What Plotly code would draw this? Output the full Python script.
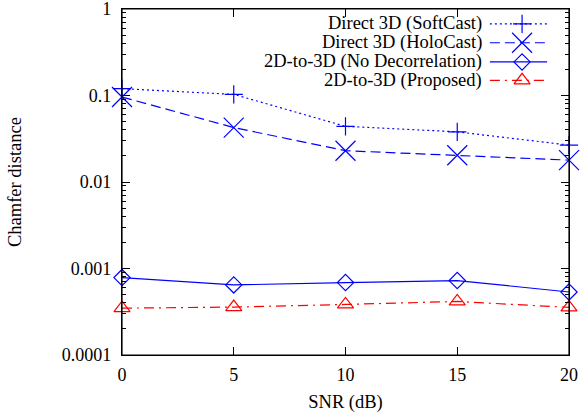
import plotly.graph_objects as go

snr = [0, 5, 10, 15, 20]
softcast = [0.120, 0.103, 0.044, 0.038, 0.0267]
holocast = [0.096, 0.0426, 0.0230, 0.0204, 0.0179]
no_decorr = [0.000785, 0.000646, 0.000688, 0.000725, 0.000535]
proposed = [0.000348, 0.000358, 0.000384, 0.000416, 0.000355]

y_ticks = [0.0001, 0.001, 0.01, 0.1, 1]
y_ticktext = ["0.0001", "0.001", "0.01", "0.1", "1"]
x_ticks = [0, 5, 10, 15, 20]

names = ["Direct 3D (SoftCast)", "Direct 3D (HoloCast)",
         "2D-to-3D (No Decorrelation)", "2D-to-3D (Proposed)"]
series = [softcast, holocast, no_decorr, proposed]
colors = ["#0000ff", "#0000ff", "#0000ff", "#ff0000"]
dashes = ["2px,3px", "10px,5px", "solid", "10px,5px,2px,5px"]
symbols = ["cross-thin-open", "x-thin-open", "diamond-open", "triangle-up-open"]
msizes = [13, 20, 12.5, 14]

FONT = "Liberation Serif"
W, H = 581, 413
L, R, T, B = 122, 12, 9, 58

minor_vals = [m * d for d in y_ticks[:-1] for m in range(2, 10)]

fig = go.Figure()
for name, ys, c, d, s, ms in zip(names, series, colors, dashes, symbols, msizes):
    fig.add_trace(go.Scatter(
        x=snr, y=ys, mode="lines+markers", name=name, showlegend=False,
        line=dict(color=c, dash=d, width=1.2),
        marker=dict(symbol=s, size=ms, color=c, line=dict(color=c, width=1.2)),
        cliponaxis=False,
    ))

# custom legend (text on the left, key on the right, like gnuplot)
leg_text_x = 0.81
leg_key_x0, leg_key_x1 = 0.823, 0.951
leg_rows = [0.957, 0.9025, 0.847, 0.794]
for name, c, d, s, ms, yy in zip(names, colors, dashes, symbols, msizes, leg_rows):
    fig.add_trace(go.Scatter(
        x=[leg_key_x0, leg_key_x1], y=[yy, yy], mode="lines", xaxis="x2", yaxis="y2",
        showlegend=False, hoverinfo="skip",
        line=dict(color=c, dash=d, width=1.2)))
    fig.add_trace(go.Scatter(
        x=[0.895], y=[yy], mode="markers", xaxis="x2", yaxis="y2",
        showlegend=False, hoverinfo="skip",
        marker=dict(symbol=s, size=ms, color=c, line=dict(color=c, width=1.2))))
    fig.add_annotation(x=leg_text_x, y=yy, xref="paper", yref="paper", text=name,
                       showarrow=False, xanchor="right", yanchor="middle",
                       font=dict(family=FONT, size=18.5, color="black"))

# plot frame
fig.add_shape(type="rect", xref="paper", yref="paper", x0=0, y0=0, x1=1, y1=1,
              line=dict(color="black", width=1.2), layer="above")

fig.update_layout(
    width=W, height=H,
    margin=dict(l=L, r=R, t=T, b=B),
    paper_bgcolor="white", plot_bgcolor="white",
    font=dict(family=FONT, size=18, color="black"),
    showlegend=False,
    xaxis=dict(
        range=[0, 20], tickvals=x_ticks, ticks="inside", ticklen=8,
        tickcolor="black", showline=True, linecolor="black", linewidth=1.2,
        mirror="ticks", showgrid=False, zeroline=False, automargin=False,
        ticklabelstandoff=3, ticklabeloverflow="allow",
        tickfont=dict(family=FONT, size=18),
        title=dict(text="SNR (dB)", standoff=11, font=dict(family=FONT, size=18.5)),
    ),
    yaxis=dict(
        type="log", range=[-4, 0], tickvals=y_ticks, ticktext=y_ticktext,
        ticks="inside", ticklen=8, tickcolor="black",
        minor=dict(ticks="inside", ticklen=4, tickcolor="black",
                   tickmode="array", tickvals=minor_vals, showgrid=False),
        showline=True, linecolor="black", linewidth=1.2, mirror="ticks",
        showgrid=False, zeroline=False, ticklabelstandoff=6, automargin=False,
        ticklabeloverflow="allow",
        tickfont=dict(family=FONT, size=18),
        title=dict(text="Chamfer distance", standoff=35, font=dict(family=FONT, size=18.5)),
    ),
    xaxis2=dict(range=[0, 1], overlaying="x", visible=False, fixedrange=True),
    yaxis2=dict(range=[0, 1], overlaying="y", visible=False, fixedrange=True),
)

fig.write_html("out.html", config={"displayModeBar": False},
               post_script="document.body.style.margin='0';document.body.style.padding='0';")
